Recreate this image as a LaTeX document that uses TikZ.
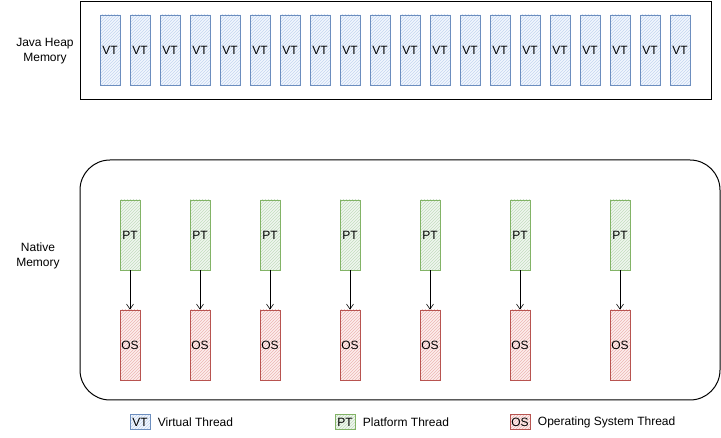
\documentclass[tikz,border=0pt]{standalone}
\usepackage{fontspec}
\setmainfont{Liberation Sans}
\usetikzlibrary{arrows.meta,positioning,patterns}
\definecolor{vtline}{HTML}{6C8EBF}
\definecolor{vtfill}{HTML}{DAE8FC}
\definecolor{ptline}{HTML}{82B366}
\definecolor{ptfill}{HTML}{D5E8D4}
\definecolor{osline}{HTML}{B85450}
\definecolor{osfill}{HTML}{F8CECC}

\begin{document}
\begin{tikzpicture}[
  x=1pt,y=-1pt,
  font=\fontsize{12}{15}\selectfont,
  mem/.style={draw=black,line width=1pt,inner sep=0pt},
  thread/.style={inner sep=0pt,minimum width=20pt,minimum height=70pt,line width=0.8pt},
  vt/.style={thread,draw=vtline,preaction={fill=vtfill!35},pattern=north east lines,pattern color=vtfill!80!vtline},
  pt/.style={thread,draw=ptline,preaction={fill=ptfill!35},pattern=north east lines,pattern color=ptfill!80!ptline},
  os/.style={thread,draw=osline,preaction={fill=osfill!35},pattern=north east lines,pattern color=osfill!80!osline},
  key/.style={minimum width=20pt,minimum height=15pt},
  arr/.style={-{Straight Barb[length=5pt,width=7pt]},semithick}
]
\useasboundingbox (0,0) rectangle (721,438);

% java heap
\node[mem,minimum width=631pt,minimum height=98pt] (heap) at (395.5,51) {};
\node[align=center] (heaplbl) at (45,51) {Java Heap\\Memory};
\foreach \i in {0,...,19}
  \node[vt] (vt\i) at (110+30*\i,50) {VT};

% native memory
\node[mem,rounded corners=30pt,minimum width=640pt,minimum height=240pt] (native) at (400,280) {};
\node[align=center] (nativelbl) at (38,256) {Native\\Memory};
\foreach \x [count=\k] in {130,200,270,350,430,520,620}{
  \node[pt] (pt\k) at (\x,235) {PT};
  \node[os] (os\k) at (\x,345) {OS};
  \draw[arr] (pt\k) -- (os\k);
}

% legend
\node[vt,key] (keyvt) at (140,422) {VT};
\node[right=4pt of keyvt] (keyvttxt) {Virtual Thread};
\node[pt,key] (keypt) at (345,422) {PT};
\node[right=4pt of keypt] (keypttxt) {Platform Thread};
\node[os,key] (keyos) at (520,422) {OS};
\node[right=4pt of keyos] (keyostxt) {Operating System Thread};
\end{tikzpicture}
\end{document}
